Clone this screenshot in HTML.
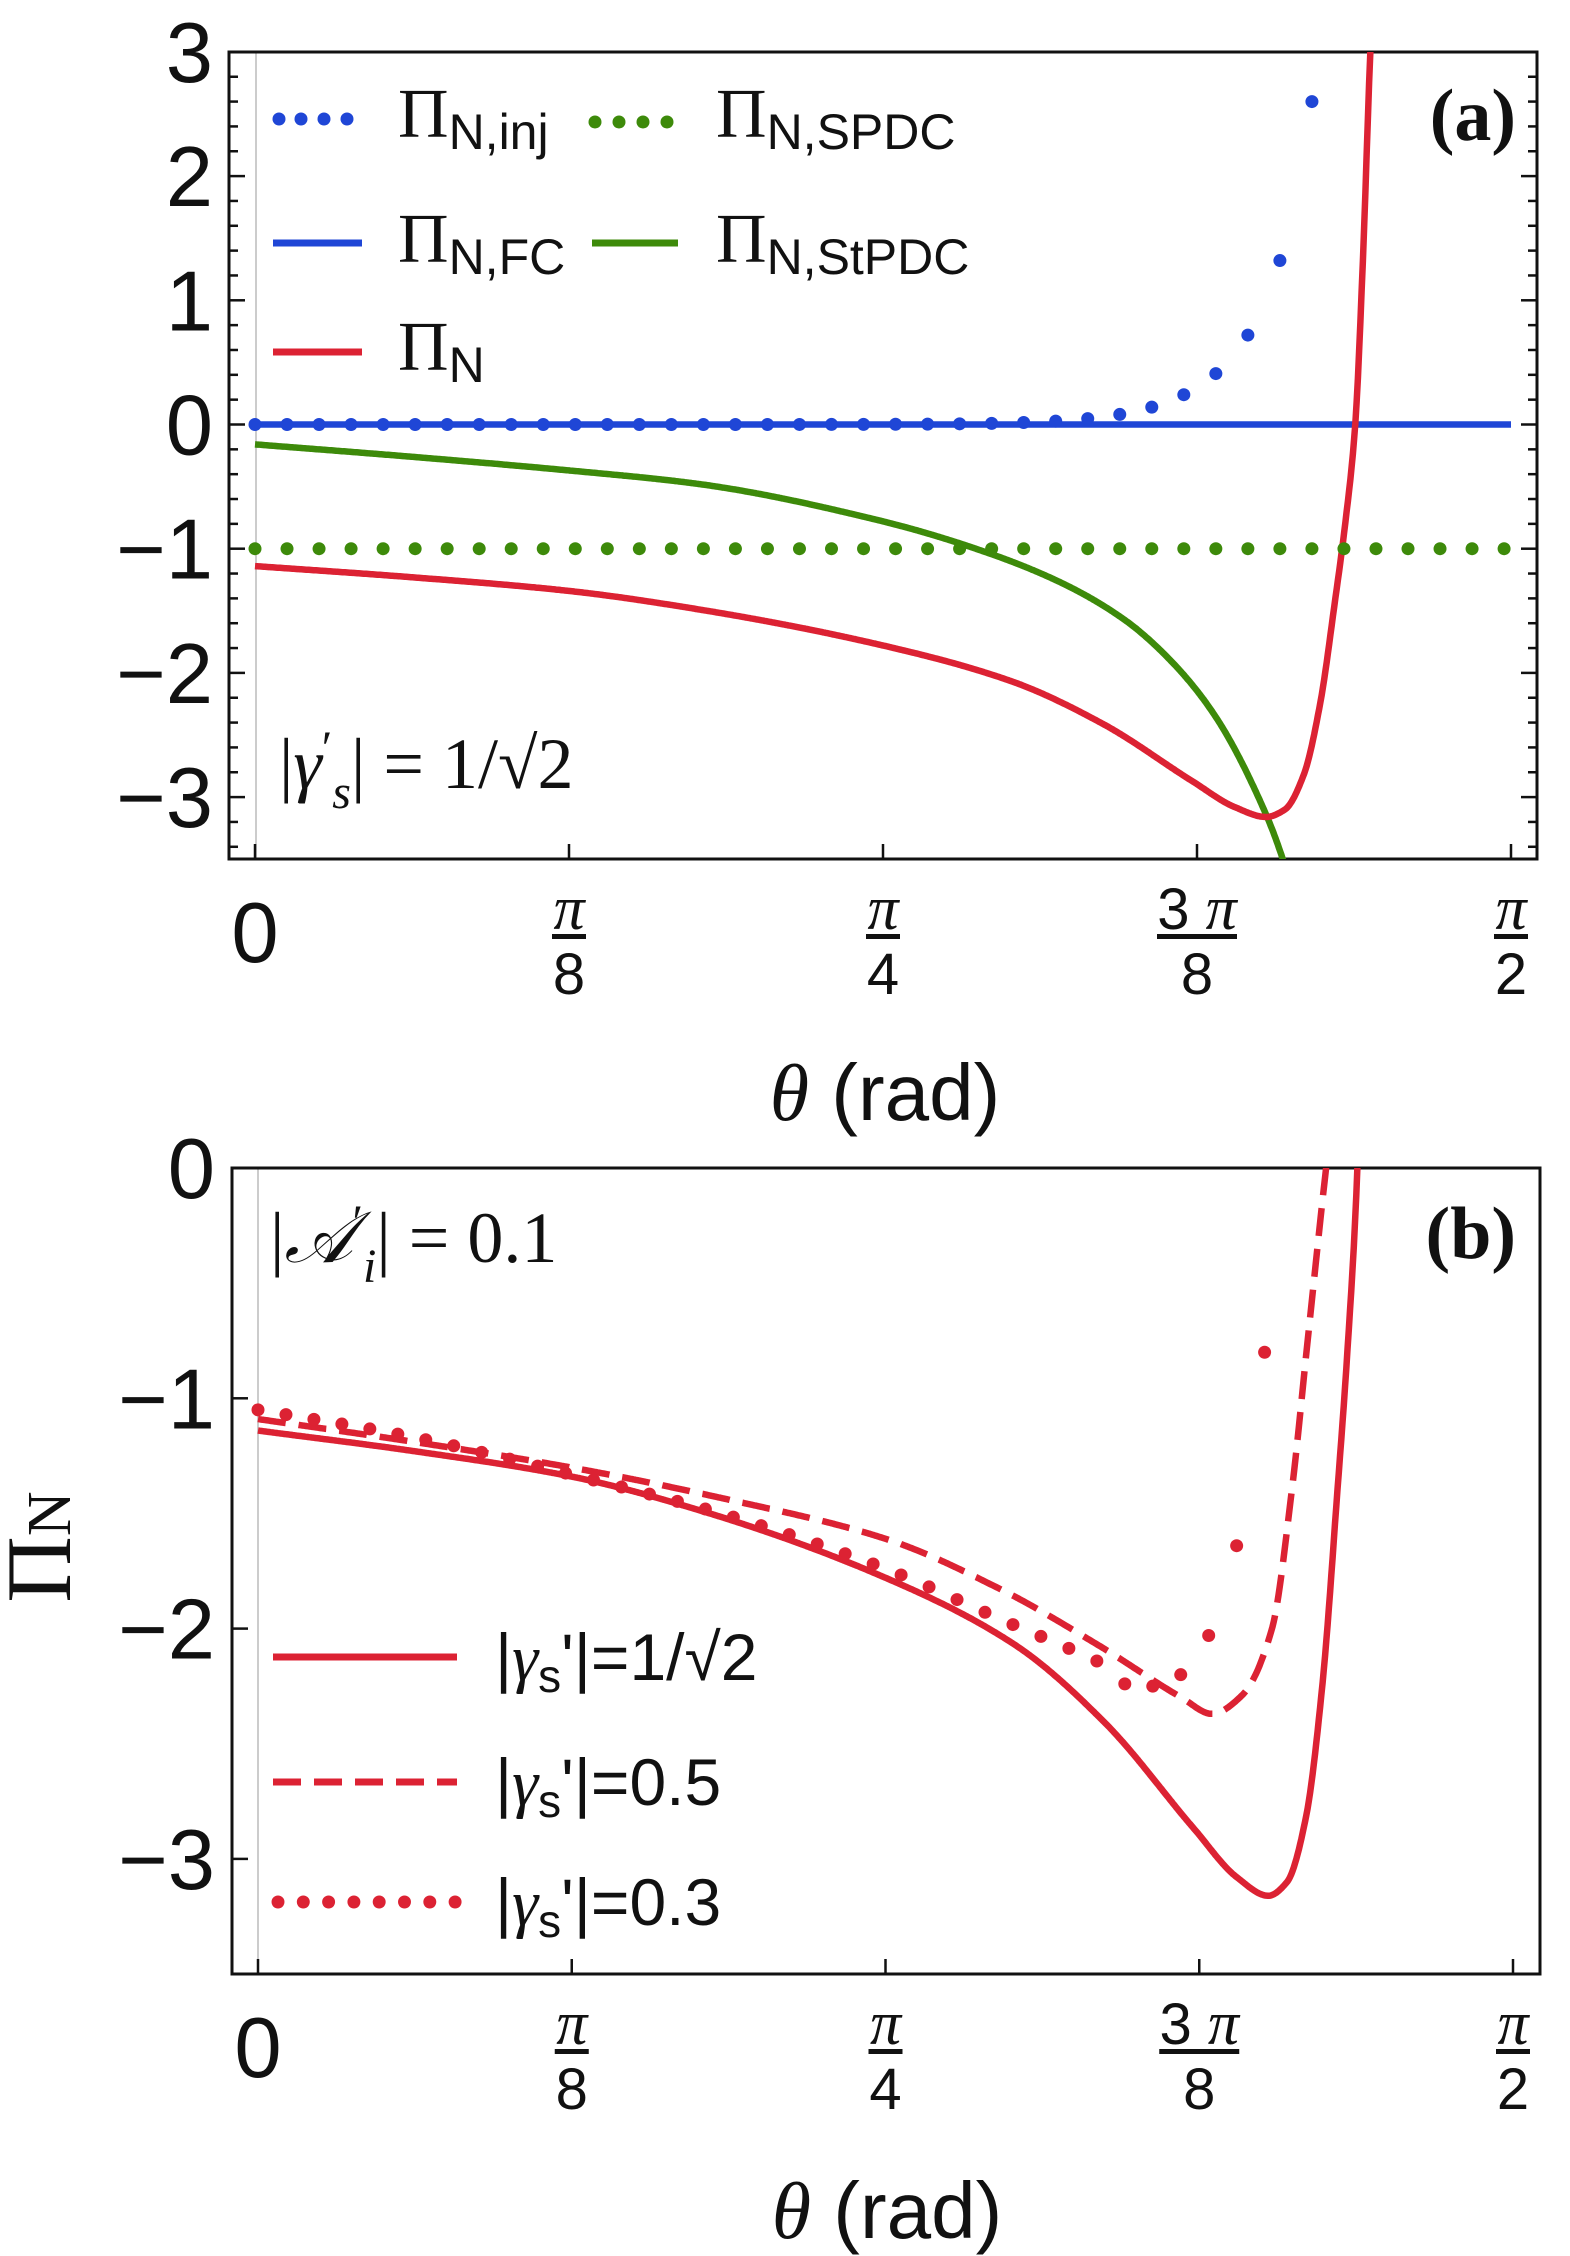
<!DOCTYPE html>
<html><head><meta charset="utf-8"><style>
html,body{margin:0;padding:0;background:#fff;}
svg{display:block;}
.tk{font-family:"Liberation Sans",sans-serif;font-size:85px;fill:#111;}
.fr{font-family:"Liberation Sans",sans-serif;font-size:58px;fill:#111;}
.pi{font-family:"Liberation Serif",serif;font-style:italic;font-size:62px;fill:#111;}
.lab{font-family:"Liberation Sans",sans-serif;font-size:80px;fill:#111;}
.ser{font-family:"Liberation Serif",serif;fill:#111;}
.sub{font-family:"Liberation Sans",sans-serif;fill:#111;}
</style></head><body>
<svg id="s" width="1570" height="2256" viewBox="0 0 1570 2256" xmlns="http://www.w3.org/2000/svg">
<defs>
<clipPath id="ca"><rect x="229" y="52" width="1308" height="807"/></clipPath>
<clipPath id="cb"><rect x="232" y="1168" width="1308" height="806"/></clipPath>
</defs>
<line x1="256" y1="52" x2="256" y2="859" stroke="#ccc" stroke-width="2"/>
<rect x="229" y="52" width="1308" height="807" fill="none" stroke="#111" stroke-width="3"/>
<g id="ticksA" stroke="#111" stroke-width="2.5"></g>
<g clip-path="url(#ca)" id="plotA"></g>
<g id="ylabA"></g>
<g id="xlabA"></g>
<text class="lab" x="885" y="1120" text-anchor="middle"><tspan font-family="Liberation Serif" font-style="italic">θ</tspan> (rad)</text>
<g stroke-width="7">
<line x1="273" y1="243" x2="362" y2="243" stroke="#1f46d6"/>
<line x1="273" y1="352" x2="362" y2="352" stroke="#dc2233"/>
<line x1="592" y1="243" x2="678" y2="243" stroke="#3d8a0a"/>
</g>
<g fill="#1f46d6"><circle cx="279" cy="119" r="6.5"/><circle cx="301" cy="119" r="6.5"/><circle cx="324" cy="119" r="6.5"/><circle cx="347" cy="119" r="6.5"/></g>
<g fill="#3d8a0a"><circle cx="595" cy="122" r="6.5"/><circle cx="619" cy="122" r="6.5"/><circle cx="643" cy="122" r="6.5"/><circle cx="667" cy="122" r="6.5"/></g>
<text x="398" y="137"><tspan class="ser" font-size="70">Π</tspan><tspan class="sub" font-size="50" dy="12">N,inj</tspan></text>
<text x="716" y="137"><tspan class="ser" font-size="70">Π</tspan><tspan class="sub" font-size="50" dy="12">N,SPDC</tspan></text>
<text x="398" y="262"><tspan class="ser" font-size="70">Π</tspan><tspan class="sub" font-size="50" dy="12">N,FC</tspan></text>
<text x="716" y="262"><tspan class="ser" font-size="70">Π</tspan><tspan class="sub" font-size="50" dy="12">N,StPDC</tspan></text>
<text x="398" y="370"><tspan class="ser" font-size="70">Π</tspan><tspan class="sub" font-size="50" dy="12">N</tspan></text>
<text class="ser" x="1516" y="140" text-anchor="end" font-size="74" font-weight="bold">(a)</text>
<text class="ser" x="279" y="788" font-size="72"><tspan>|</tspan><tspan font-style="italic">γ</tspan><tspan font-size="48" dy="-24">′</tspan><tspan font-style="italic" font-size="48" dy="44">s</tspan><tspan dy="-20">| = 1/√2</tspan></text>

<line x1="258" y1="1168" x2="258" y2="1974" stroke="#ccc" stroke-width="2"/>
<rect x="232" y="1168" width="1308" height="806" fill="none" stroke="#111" stroke-width="3"/>
<g id="ticksB" stroke="#111" stroke-width="2.5"></g>
<g clip-path="url(#cb)" id="plotB"></g>
<g id="ylabB"></g>
<g id="xlabB"></g>
<text class="lab" x="887" y="2238" text-anchor="middle"><tspan font-family="Liberation Serif" font-style="italic">θ</tspan> (rad)</text>
<text transform="translate(70,1547) rotate(-90)" text-anchor="middle"><tspan class="ser" font-size="92">Π</tspan><tspan class="ser" font-size="62">N</tspan></text>
<text class="ser" x="270" y="1262" font-size="72"><tspan>|</tspan><tspan font-style="italic">𝒜</tspan><tspan font-size="48" dy="-24">′</tspan><tspan font-style="italic" font-size="48" dy="44">i</tspan><tspan dy="-20">| = 0.1</tspan></text>
<text class="ser" x="1516" y="1258" text-anchor="end" font-size="74" font-weight="bold">(b)</text>
<line x1="273" y1="1657" x2="457" y2="1657" stroke="#dc2233" stroke-width="7"/>
<line x1="273" y1="1782" x2="457" y2="1782" stroke="#dc2233" stroke-width="7" stroke-dasharray="28 13"/>
<g fill="#dc2233" id="legdots"></g>
<text class="sub" x="495" y="1680" font-size="66">|<tspan font-family="Liberation Serif" font-style="italic">γ</tspan><tspan font-size="46" dy="12">s</tspan><tspan dy="-12">'|=1/√2</tspan></text>
<text class="sub" x="495" y="1805" font-size="66">|<tspan font-family="Liberation Serif" font-style="italic">γ</tspan><tspan font-size="46" dy="12">s</tspan><tspan dy="-12">'|=0.5</tspan></text>
<text class="sub" x="495" y="1925" font-size="66">|<tspan font-family="Liberation Serif" font-style="italic">γ</tspan><tspan font-size="46" dy="12">s</tspan><tspan dy="-12">'|=0.3</tspan></text>
</svg>
<script>
var NS="http://www.w3.org/2000/svg";
function el(p,tag,a,txt){var e=document.createElementNS(NS,tag);for(var k in a)e.setAttribute(k,a[k]);if(txt!==undefined)e.textContent=txt;p.appendChild(e);return e;}
function mono(P){
 var n=P.length,d=[],m=[];
 for(var i=0;i<n-1;i++)d.push((P[i+1][1]-P[i][1])/(P[i+1][0]-P[i][0]));
 m[0]=d[0];m[n-1]=d[n-2];
 for(var i=1;i<n-1;i++){ if(d[i-1]*d[i]<=0)m[i]=0; else {var h0=P[i][0]-P[i-1][0],h1=P[i+1][0]-P[i][0];var w1=2*h1+h0,w2=h1+2*h0;m[i]=(w1+w2)/(w1/d[i-1]+w2/d[i]);}}
 return function(t){
  if(t<=P[0][0])return P[0][1]; if(t>=P[n-1][0])return P[n-1][1]+m[n-1]*(t-P[n-1][0]);
  var i=0;while(i<n-2&&t>P[i+1][0])i++;
  var h=P[i+1][0]-P[i][0],u=(t-P[i][0])/h;
  var h00=2*u*u*u-3*u*u+1,h10=u*u*u-2*u*u+u,h01=-2*u*u*u+3*u*u,h11=u*u*u-u*u;
  return h00*P[i][1]+h10*h*m[i]+h01*P[i+1][1]+h11*h*m[i+1];};}
function path(f,X,Y,t0,t1){var d="";for(var i=0;i<=900;i++){var t=t0+(t1-t0)*i/900;d+=(i?"L":"M")+X(t).toFixed(1)+","+Y(f(t)).toFixed(1);}return d;}
var RED="#dc2233",BLUE="#1f46d6",GREEN="#3d8a0a";
var Xa=function(t){return 255+1256*t},Ya=function(v){return 424.5-124.2*v};
var Xb=function(t){return 258+1255*t},Yb=function(v){return 1168-230.3*v};
var red=mono([[0,-1.14],[.125,-1.23],[.25,-1.34],[.354,-1.49],[.496,-1.77],[.603,-2.07],[.675,-2.41],[.746,-2.87],[.78,-3.08],[.805,-3.16],[.82,-3.1],[.835,-2.82],[.848,-2.25],[.86,-1.41],[.868,-0.8],[.876,0],[.882,1.3],[.888,3],[.895,4.5]]);
var grn=mono([[0,-0.16],[.125,-.26],[.25,-.37],[.354,-.48],[.496,-.77],[.568,-.98],[.639,-1.26],[.692,-1.57],[.728,-1.89],[.764,-2.34],[.805,-3.14],[.817,-3.46],[.83,-3.9]]);
var A=document.getElementById("plotA");
el(A,"line",{x1:255,y1:Ya(0),x2:1511,y2:Ya(0),stroke:BLUE,"stroke-width":6.5});
el(A,"path",{d:path(grn,Xa,Ya,0,.83),fill:"none",stroke:GREEN,"stroke-width":6.5});
el(A,"path",{d:path(red,Xa,Ya,0,.895),fill:"none",stroke:RED,"stroke-width":6.5});
for(var k=0;k<=39;k++)el(A,"circle",{cx:Xa(k*0.0255),cy:Ya(-1),r:6.5,fill:GREEN});
var inj={28:0.14,29:0.24,30:0.41,31:0.72,32:1.32,33:2.6};
for(var k=0;k<=33;k++){var v=k>=28?inj[k]:0.14*Math.pow(0.58,28-k);el(A,"circle",{cx:Xa(k*0.0255),cy:Ya(v),r:6.5,fill:BLUE});}
var TA=document.getElementById("ticksA");
for(var v=-3.4;v<=3.001;v+=0.2){var y=Ya(v),maj=Math.abs(v-Math.round(v))<0.01;var L=maj?16:9;
 el(TA,"line",{x1:229,y1:y,x2:229+L,y2:y});el(TA,"line",{x1:1537,y1:y,x2:1537-L,y2:y});}
for(var i=0;i<=4;i++){var x=Xa(i/4);el(TA,"line",{x1:x,y1:859,x2:x,y2:844});}
var YA=document.getElementById("ylabA");
[3,2,1,0,-1,-2,-3].forEach(function(v){el(YA,"text",{"class":"tk",x:213,y:Ya(v)+30,"text-anchor":"end"},(v<0?"−":"")+Math.abs(v));});
var B=document.getElementById("plotB");
var dsh=mono([[0,-1.09],[.125,-1.19],[.249,-1.30],[.375,-1.44],[.5,-1.61],[.592,-1.83],[.672,-2.08],[.736,-2.3],[.76,-2.37],[.784,-2.29],[.808,-2.0],[.824,-1.39],[.836,-0.77],[.848,-0.15],[.852,0.05],[.86,0.6]]);
el(B,"path",{d:path(red,Xb,Yb,0,.895),fill:"none",stroke:RED,"stroke-width":6.5});
el(B,"path",{d:path(dsh,Xb,Yb,0,.86),fill:"none",stroke:RED,"stroke-width":6.5,"stroke-dasharray":"28 13"});
var dt=mono([[0,-1.05],[.125,-1.17],[.249,-1.33],[.375,-1.51],[.5,-1.74],[.592,-1.96],[.672,-2.15],[.69,-2.2]]);
var last={31:-2.24,32:-2.25,33:-2.2,34:-2.03,35:-1.64,36:-0.8};
for(var k=0;k<=36;k++){var t=k*0.02228;var v=k>=31?last[k]:dt(t);el(B,"circle",{cx:Xb(t),cy:Yb(v),r:6.5,fill:RED});}
var TB=document.getElementById("ticksB");
for(var v=-3;v<=-1;v++){var y=Yb(v);el(TB,"line",{x1:232,y1:y,x2:248,y2:y});}
for(var i=0;i<=4;i++){var x=Xb(i/4);el(TB,"line",{x1:x,y1:1974,x2:x,y2:1959});}
var YB=document.getElementById("ylabB");
[0,-1,-2,-3].forEach(function(v){el(YB,"text",{"class":"tk",x:215,y:Yb(v)+30,"text-anchor":"end"},(v<0?"−":"")+Math.abs(v));});
var LD=document.getElementById("legdots");
for(var i=0;i<8;i++)el(LD,"circle",{cx:278+i*25.3,cy:1902,r:6.5});
function xl(g,X,y0){
 var G=document.getElementById(g);
 el(G,"text",{"class":"tk",x:X(0),y:y0+30,"text-anchor":"middle"},"0");
 var fr=[[.25,"π","8"],[.5,"π","4"],[.75,"3π","8"],[1,"π","2"]];
 fr.forEach(function(f){var x=X(f[0]);
  if(f[1]=="3π"){var t=el(G,"text",{x:x,y:y0-3,"text-anchor":"middle"});
   el(t,"tspan",{"class":"fr"},"3 ");el(t,"tspan",{"class":"pi"},"π");}
  else el(G,"text",{"class":"pi",x:x,y:y0-3,"text-anchor":"middle"},"π");
  var w=f[1]=="3π"?40:17;
  el(G,"rect",{x:x-w,y:y0+2,width:2*w,height:5,fill:"#111"});
  el(G,"text",{"class":"fr",x:x,y:y0+62,"text-anchor":"middle"},f[2]);});
}
xl("xlabA",Xa,932);
xl("xlabB",Xb,2047);
</script>
</body></html>
